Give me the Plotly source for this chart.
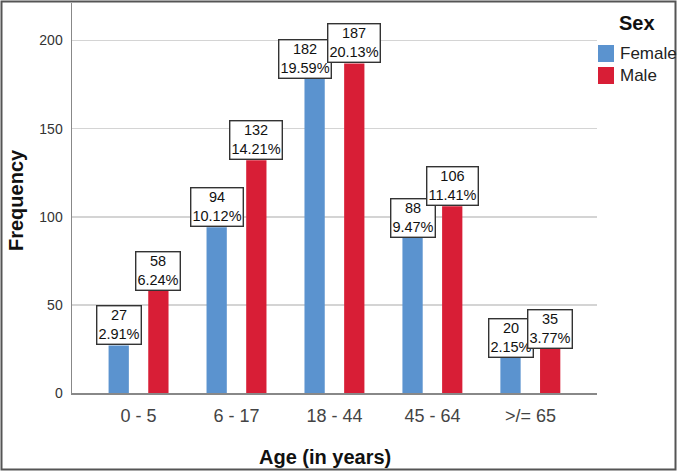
import plotly.graph_objects as go

# ---- data ----
categories = ["0 - 5", "6 - 17", "18 - 44", "45 - 64", ">/= 65"]
female_counts = [27, 94, 182, 88, 20]
male_counts = [58, 132, 187, 106, 35]
female_pct = ["2.91%", "10.12%", "19.59%", "9.47%", "2.15%"]
male_pct = ["6.24%", "14.21%", "20.13%", "11.41%", "3.77%"]
# bar heights as drawn in the picture (last male bar is drawn at ~25 although labelled 35)
female_heights = [27, 94, 182, 88, 20]
male_heights = [58, 132, 187, 106, 25]
y_ticks = [0, 50, 100, 150, 200]

W, H = 677, 472
L, R, T, B = 72, 80, 3, 79
PW, PH = W - L - R, H - T - B
BOTTOM = H - B


def px(xp):
    return (xp - L) / PW


def py(yp):
    return (BOTTOM - yp) / PH


BLUE = "#5B93CF"
RED = "#D81E36"
FONT = "Liberation Sans, Arial, sans-serif"

bw = 0.207
fo, mo = -0.203, 0.202

fig = go.Figure()
fig.add_trace(go.Bar(x=categories, y=female_heights, name="Female", marker_color=BLUE,
                     marker_line_width=0, width=bw, offset=fo - bw / 2, showlegend=False,
                     hoverinfo="skip"))
fig.add_trace(go.Bar(x=categories, y=male_heights, name="Male", marker_color=RED,
                     marker_line_width=0, width=bw, offset=mo - bw / 2, showlegend=False,
                     hoverinfo="skip"))

annotations = []
for i in range(len(categories)):
    for off, n, p, h in ((fo, female_counts[i], female_pct[i], female_heights[i]),
                         (mo, male_counts[i], male_pct[i], male_heights[i])):
        xs, ys = 0, 0
        if n == 182:
            xs, ys = -10, -7
        annotations.append(dict(
            x=i + off, y=h, xref="x", yref="y", text=f"{n}<br>{p}", showarrow=False,
            xanchor="center", yanchor="bottom", xshift=xs, yshift=ys,
            font=dict(family=FONT, size=14.5, color="#111"),
            bgcolor="white", bordercolor="#333", borderwidth=1.4, borderpad=1,
        ))

# axis titles
annotations.append(dict(x=px(16), y=py(200), xref="paper", yref="paper", text="<b>Frequency</b>",
                        textangle=-90, showarrow=False, xanchor="center", yanchor="middle",
                        font=dict(family=FONT, size=20, color="#111")))
annotations.append(dict(x=px(324.5), y=py(457), xref="paper", yref="paper", text="<b>Age (in years)</b>",
                        showarrow=False, xanchor="center", yanchor="middle",
                        font=dict(family=FONT, size=20, color="#111")))
# legend
annotations.append(dict(x=px(637), y=py(23), xref="paper", yref="paper", text="<b>Sex</b>",
                        showarrow=False, xanchor="center", yanchor="middle",
                        font=dict(family=FONT, size=20, color="#111")))
for name, yc in (("Female", 53.5), ("Male", 75)):
    annotations.append(dict(x=px(618), y=py(yc), xref="paper", yref="paper", text=name,
                            showarrow=False, xanchor="left", yanchor="middle",
                            font=dict(family=FONT, size=17, color="#222")))

shapes = [
    dict(type="rect", xref="paper", yref="paper", x0=px(598), x1=px(614), y0=py(62), y1=py(45),
         fillcolor=BLUE, line_width=0),
    dict(type="rect", xref="paper", yref="paper", x0=px(598), x1=px(614), y0=py(84), y1=py(67),
         fillcolor=RED, line_width=0),
    dict(type="rect", xref="paper", yref="paper", x0=px(1.5), x1=px(675.5), y0=py(469.5), y1=py(1.5),
         line=dict(color="#555", width=2), fillcolor="rgba(0,0,0,0)"),
]

fig.update_layout(
    width=W, height=H, margin=dict(l=L, r=R, t=T, b=B),
    paper_bgcolor="white", plot_bgcolor="white",
    barmode="overlay", annotations=annotations, shapes=shapes,
    font=dict(family=FONT), hovermode=False,
)
fig.update_xaxes(type="category", range=[-0.68, 4.68], showgrid=False, showline=True,
                 linecolor="#888", linewidth=1.5, ticks="", ticklabelstandoff=6,
                 tickfont=dict(family=FONT, size=18, color="#444"))
fig.update_yaxes(range=[0, 221.3], tickvals=y_ticks, showgrid=True, gridcolor="#d4d4d4", gridwidth=1.5,
                 zeroline=False, showline=True, linecolor="#888", linewidth=1.5, ticks="",
                 ticklabelstandoff=5, tickfont=dict(family=FONT, size=14, color="#333"))

fig.write_html(
    "out.html",
    config={"displayModeBar": False, "staticPlot": True},
    post_script="document.body.style.margin='0';document.body.style.overflow='hidden';",
)
